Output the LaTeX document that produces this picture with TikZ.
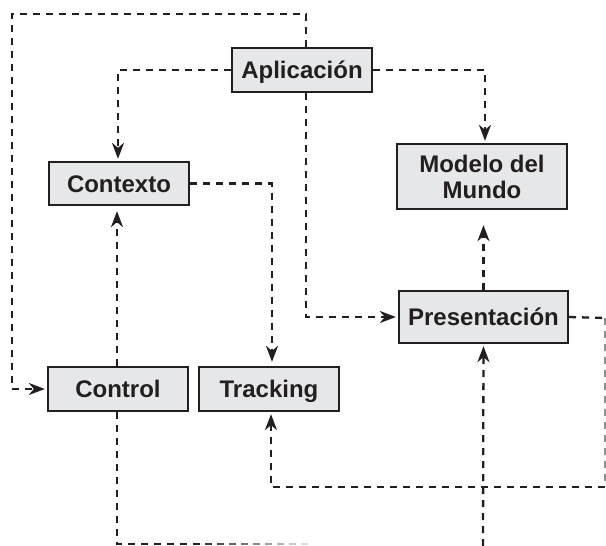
\documentclass[tikz,border=0pt]{standalone}
\usepackage{fontspec}
\setmainfont{Liberation Sans}
\usetikzlibrary{arrows.meta,calc}
\definecolor{ink}{HTML}{231F20}
\definecolor{boxfill}{HTML}{E6E7E8}
\tikzset{
  block/.style={draw=ink, line width=2.3pt, fill=boxfill, inner sep=0pt,
    font=\bfseries\fontsize{24}{26}\selectfont, text=ink},
  oneline/.style={text height=17pt, text depth=0pt},
  conn/.style={draw=ink, line width=2.3pt, dash pattern=on 7pt off 6pt},
  tip/.style={-{Stealth[length=16pt,width=12pt,inset=5pt]}, shorten >=2pt},
}
\begin{document}
\begin{tikzpicture}[x=1pt,y=-1pt]
\useasboundingbox (0,0) rectangle (606,546);

% blocks
\node[block,oneline,minimum width=140pt,minimum height=44pt] (app) at (302,70) {Aplicación};
\node[block,align=center,minimum width=170pt,minimum height=65pt] (mdl) at (482,176.5) {Modelo del\\Mundo};
\node[block,oneline,minimum width=140pt,minimum height=43pt] (ctx) at (119,183.5) {Contexto};
\node[block,oneline,minimum width=140pt,minimum height=44pt] (ctl) at (118,389) {Control};
\node[block,oneline,minimum width=140pt,minimum height=44pt] (trk) at (269,389) {Tracking};
\node[block,oneline,minimum width=169pt,minimum height=52pt] (pre) at (483.5,317) {Presentación};

% helper points for the routed connectors
\coordinate (ax) at (306,0);
\coordinate (topL) at (12,14);
\coordinate (rgtT) at (605,318);
\coordinate (rgtB) at (605,487);
\coordinate (botIn) at (483,546);
\coordinate (botL) at (117,544);

% Aplicacion -> Control (around the top-left)
\draw[conn,tip] (app.north -| ax) |- (topL) |- (ctl.west);
% Aplicacion -> Presentacion
\draw[conn,tip] (app.south -| ax) |- (pre.west);
% Aplicacion -> Contexto / Modelo del Mundo
\draw[conn,tip] (app.west) -| ([xshift=-1pt]ctx.north);
\draw[conn,tip] (app.east) -| ([xshift=3pt]mdl.north);
% Contexto -> Tracking
\draw[conn,tip,shorten >=4pt] (ctx.east) -| ([xshift=3pt]trk.north);
% Control -> Contexto
\draw[conn,tip,shorten >=5pt] ([xshift=-1pt]ctl.north) -- ([xshift=-2pt]ctx.south);
% Presentacion -> Modelo del Mundo
\draw[conn,tip,shorten >=15pt] (pre.north) -- (pre.north |- mdl.south);
% Presentacion -> Tracking (around the right and below)
\draw[conn] (pre.east) -- (rgtT);
\draw[conn,draw=ink!50] (rgtT) -- (rgtB);
\draw[conn,tip] (rgtB) -| ([xshift=2pt]trk.south);
% incoming from below into Presentacion
\draw[conn,tip] (botIn) -- (pre.south);
% Control downwards, the run along the bottom fades out
\draw[conn] ([xshift=-1pt]ctl.south) -- (botL) -- (200,544);
\foreach \i in {0,...,8}{
  \pgfmathsetmacro{\shade}{88-9*\i}
  \draw[ink!\shade, line width=2.3pt] (205+12*\i,544) -- (212+12*\i,544);
}
\end{tikzpicture}
\end{document}
